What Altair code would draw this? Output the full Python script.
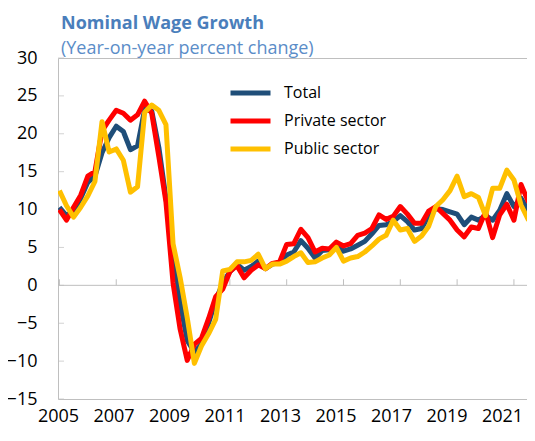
import altair as alt
import pandas as pd

# Quarterly observations, 2005Q1 .. 2021Q4
years = list(range(2005, 2022))
quarter_index = [y + q / 4 for y in years for q in range(4)]

total = [10.3, 9.2, 9.8, 11.5, 13.6, 14.4, 17.5, 19.5, 21.0, 20.3, 17.9, 18.4,
         23.2, 23.0, 18.2, 11.5, 4.5, -2.3, -7.3, -8.8, -7.8, -5.0, -2.0, 0.3,
         1.8, 2.8, 2.0, 2.5, 3.2, 2.2, 2.8, 3.0, 4.0, 4.4, 5.9, 4.9,
         3.6, 4.6, 4.7, 5.3, 4.5, 4.8, 5.3, 5.8, 6.8, 7.9, 8.0, 8.4,
         9.2, 8.4, 7.3, 7.5, 9.2, 10.1, 10.0, 9.7, 9.4, 8.0, 9.0, 8.6,
         9.2, 8.6, 9.9, 12.1, 10.4, 11.5, 9.9, 10.2]
private = [10.0, 8.6, 10.3, 11.9, 14.4, 15.0, 20.4, 21.8, 23.1, 22.7, 21.8, 22.5,
           24.3, 22.7, 17.0, 11.0, 0.3, -5.8, -9.9, -7.8, -7.0, -4.4, -1.5, -0.5,
           1.8, 2.6, 1.0, 2.0, 2.7, 2.2, 2.9, 3.1, 5.4, 5.5, 7.4, 6.3,
           4.4, 4.9, 4.8, 5.7, 5.2, 5.5, 6.6, 6.9, 7.5, 9.3, 8.7, 9.1,
           10.4, 9.4, 8.2, 8.2, 9.8, 10.4, 9.5, 8.6, 7.3, 6.4, 7.7, 7.5,
           9.7, 6.3, 9.3, 10.7, 8.6, 13.3, 11.1, 11.7]
public = [12.5, 10.5, 9.0, 10.3, 11.8, 13.7, 21.6, 17.6, 18.0, 16.5, 12.3, 13.0,
          22.8, 23.8, 23.1, 21.2, 5.5, 1.0, -4.3, -10.3, -8.0, -6.4, -4.5, 1.9,
          2.1, 3.1, 3.1, 3.3, 4.1, 2.2, 2.8, 2.8, 3.2, 3.8, 4.3, 3.0,
          3.1, 3.6, 4.0, 5.0, 3.2, 3.6, 3.8, 4.4, 5.2, 6.1, 6.6, 8.6,
          7.3, 7.5, 5.8, 6.5, 7.8, 10.4, 11.3, 12.5, 14.4, 11.7, 12.1, 11.6,
          9.2, 12.8, 12.8, 15.2, 13.9, 10.6, 8.7, 7.9]

series_names = ["Total", "Private sector", "Public sector"]
series_colors = ["#1F4E79", "#FF0000", "#FFC000"]
x_labels = [2005, 2007, 2009, 2011, 2013, 2015, 2017, 2019, 2021]
y_ticks = [-15, -10, -5, 0, 5, 10, 15, 20, 25, 30]

rows = []
for name, vals in zip(series_names, [total, private, public]):
    for t, v in zip(quarter_index, vals):
        rows.append({"t": t, "series": name, "value": v})
df = pd.DataFrame(rows)

FONT = "Open Sans"
GRAY = "#BFBFBF"

# data scale (quarters) and the category-label scale of the original chart
xscale = alt.Scale(domain=[2004.95, 2021.46], nice=False, zero=False)
label_scale = alt.Scale(domain=[2005, 2021.9], nice=False, zero=False)
yscale = alt.Scale(domain=[-15, 30], nice=False, zero=False)

yaxis = alt.Axis(values=y_ticks, title=None, ticks=False, domain=False,
                 grid=False, labelPadding=21, labelFontSize=18,
                 labelOverlap=False, labelFlush=False,
                 labelFont=FONT, labelColor="#000000")
xaxis = alt.Axis(values=x_labels, format="d", title=None, ticks=False,
                 domain=False, grid=False, labelPadding=8, orient="bottom",
                 labelOverlap=False, labelFlush=False,
                 labelFontSize=18, labelFont=FONT, labelColor="#000000")

lines = alt.Chart(df).mark_line(strokeWidth=5, strokeJoin="round", clip=True).encode(
    x=alt.X("t:Q", scale=xscale, axis=None),
    y=alt.Y("value:Q", scale=yscale, axis=yaxis),
    color=alt.Color("series:N",
                    scale=alt.Scale(domain=series_names, range=series_colors),
                    sort=series_names,
                    legend=alt.Legend(title=None, orient="none", legendX=170,
                                      legendY=21, symbolType="stroke",
                                      symbolStrokeWidth=5, symbolSize=1600,
                                      clipHeight=28, rowPadding=0,
                                      labelFontSize=16,
                                      labelFont=FONT, labelColor="#000000",
                                      labelOffset=11, padding=0)),
)

zero_df = pd.DataFrame({"v": [0]})
zero_line = alt.Chart(zero_df).mark_rule(color=GRAY, strokeWidth=1).encode(
    y=alt.Y("v:Q", scale=yscale, axis=yaxis)
)

xt_df = pd.DataFrame({"t": x_labels})
x_ticks = alt.Chart(xt_df).mark_rule(color=GRAY, strokeWidth=1).encode(
    x=alt.X("t:Q", scale=xscale, axis=None),
    y=alt.datum(0, scale=yscale, axis=yaxis),
    y2=alt.datum(0.8),
)

yt_df = pd.DataFrame({"v": y_ticks})
y_inner_ticks = alt.Chart(yt_df).mark_tick(color=GRAY, thickness=1, size=6,
                                           orient="horizontal").encode(
    y=alt.Y("v:Q", scale=yscale, axis=yaxis),
    x=alt.value(3),
)

lab_df = pd.DataFrame({"year": x_labels})
label_layer = alt.Chart(lab_df).mark_point(opacity=0).encode(
    x=alt.X("year:Q", scale=label_scale, axis=xaxis),
    y=alt.datum(0, scale=yscale, axis=yaxis),
)

chart = alt.layer(zero_line, x_ticks, y_inner_ticks, label_layer, lines).resolve_scale(
    x="independent"
).properties(
    width=469,
    height=341,
    padding={"left": 50, "top": 50, "right": 0, "bottom": 28},
    autosize=alt.AutoSizeParams(type="none"),
    title=alt.TitleParams(
        text="Nominal Wage Growth",
        subtitle="(Year-on-year percent change)",
        anchor="start", frame="group", dx=3, offset=-9,
        font=FONT, fontSize=18, fontWeight="bold", color="#4A7EBB",
        subtitleFont=FONT, subtitleFontSize=18, subtitleColor="#5B8DC8",
        subtitlePadding=7,
    ),
).configure_view(stroke=GRAY, strokeWidth=1)

chart.save("out.html", embed_options={"renderer": "svg", "actions": False})
